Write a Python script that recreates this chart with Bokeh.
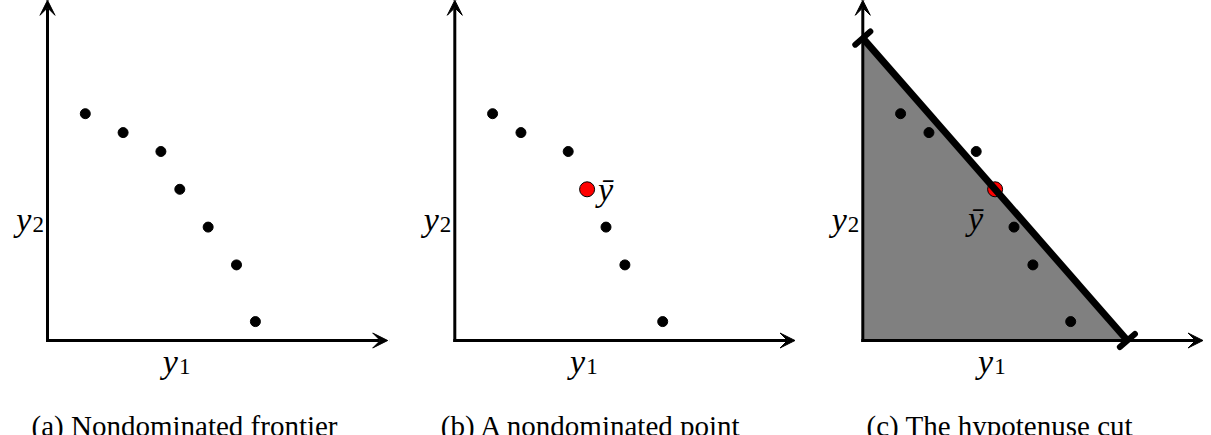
from bokeh.plotting import figure
from bokeh.models import Arrow, VeeHead, TeeHead, Range1d
from bokeh.core.properties import value
from bokeh.embed import file_html
from bokeh.resources import INLINE

# Objective-space points (y1, y2)
frontier_a_y1 = [2, 4, 6, 7, 8.5, 10, 11]
frontier_a_y2 = [12, 11, 10, 8, 6, 4, 1]
frontier_b_y1 = [2, 3.5, 6, 8, 9, 11]
frontier_b_y2 = [12, 11, 10, 6, 4, 1]
ybar_y1 = [7]
ybar_y2 = [8]
# hypotenuse cut through ybar: y1/14 + y2/16 = 1
cut_y1_intercept = 14
cut_y2_intercept = 16
axis_extent = 18

captions = ["(a) Nondominated frontier",
            "(b) A nondominated point",
            "(c) The hypotenuse cut"]

# layout / style: three panels side by side in one canvas (units of the axes)
PX_PER_UNIT = 18.9
FIG_W, FIG_H = 1211, 435
ORIGIN_FROM_TOP = 340
panel_origin = [47 / PX_PER_UNIT, 454.3 / PX_PER_UNIT, 862.3 / PX_PER_UNIT]
MATH_SIZE = "34px"
SUB_SIZE = "23px"
CAPTION_SIZE = "29px"


def serif():
    return value("Liberation Serif")


p = figure(width=FIG_W, height=FIG_H, output_backend="svg", toolbar_location=None,
           x_range=Range1d(0, FIG_W / PX_PER_UNIT),
           y_range=Range1d(-(FIG_H - ORIGIN_FROM_TOP) / PX_PER_UNIT,
                           ORIGIN_FROM_TOP / PX_PER_UNIT),
           min_border=0, outline_line_color=None,
           background_fill_color="white", border_fill_color="white")
p.axis.visible = False
p.grid.visible = False


def shift(xs, dx):
    return [x + dx for x in xs]


def draw_panel(i, pts_y1, pts_y2, ybar=False, ybar_anchor="right", cut=False):
    ox = panel_origin[i]

    if cut:
        p.patch(x=shift([0, 0, cut_y1_intercept], ox), y=[0, cut_y2_intercept, 0],
                fill_color="#808080", line_color=None)

    for xe, ye in ((axis_extent, 0), (0, axis_extent)):
        p.add_layout(Arrow(x_start=ox, y_start=0, x_end=ox + xe, y_end=ye,
                           end=VeeHead(size=15, fill_color="black",
                                       line_color="black", line_width=1),
                           line_width=3, line_color="black", line_cap="square"))

    if cut:
        p.add_layout(Arrow(x_start=ox, y_start=cut_y2_intercept,
                           x_end=ox + cut_y1_intercept, y_end=0,
                           start=TeeHead(size=20, line_width=6, line_color="black",
                                         line_cap="round"),
                           end=TeeHead(size=20, line_width=6, line_color="black",
                                       line_cap="round"),
                           line_width=7, line_color="black"))

    p.scatter(shift(pts_y1, ox), pts_y2, size=10, fill_color="black",
              line_color="black")

    if ybar:
        p.scatter(shift(ybar_y1, ox), ybar_y2, size=15, fill_color="red",
                  line_color="black", line_width=1)
        if ybar_anchor == "right":
            p.text(shift(ybar_y1, ox), ybar_y2, text=["ȳ"], text_font=serif(),
                   text_font_style="italic", text_font_size=MATH_SIZE,
                   text_align="left", text_baseline="alphabetic",
                   x_offset=11, y_offset=0)
        else:
            p.text(shift(ybar_y1, ox), ybar_y2, text=["ȳ"], text_font=serif(),
                   text_font_style="italic", text_font_size=MATH_SIZE,
                   text_align="right", text_baseline="alphabetic",
                   x_offset=-12, y_offset=29)

    # axis labels y1 and y2
    lx = shift([6.9, -0.85], ox)
    ly = [-1.1, 6.4]
    p.text(lx, ly, text=["y", "y"], text_font=serif(),
           text_font_style="italic", text_font_size=MATH_SIZE,
           text_align="right", text_baseline="alphabetic")
    p.text(lx, ly, text=["1", "2"], text_font=serif(),
           text_font_size=SUB_SIZE, text_align="left",
           text_baseline="alphabetic", x_offset=1, y_offset=5)

    p.text([ox + 7.25], [-4.5], text=[captions[i]], text_font=serif(),
           text_font_size=CAPTION_SIZE, text_align="center",
           text_baseline="alphabetic")


draw_panel(0, frontier_a_y1, frontier_a_y2)
draw_panel(1, frontier_b_y1, frontier_b_y2, ybar=True, ybar_anchor="right")
draw_panel(2, frontier_b_y1, frontier_b_y2, ybar=True, ybar_anchor="left", cut=True)

open("out.html", "w").write(file_html(p, INLINE))
